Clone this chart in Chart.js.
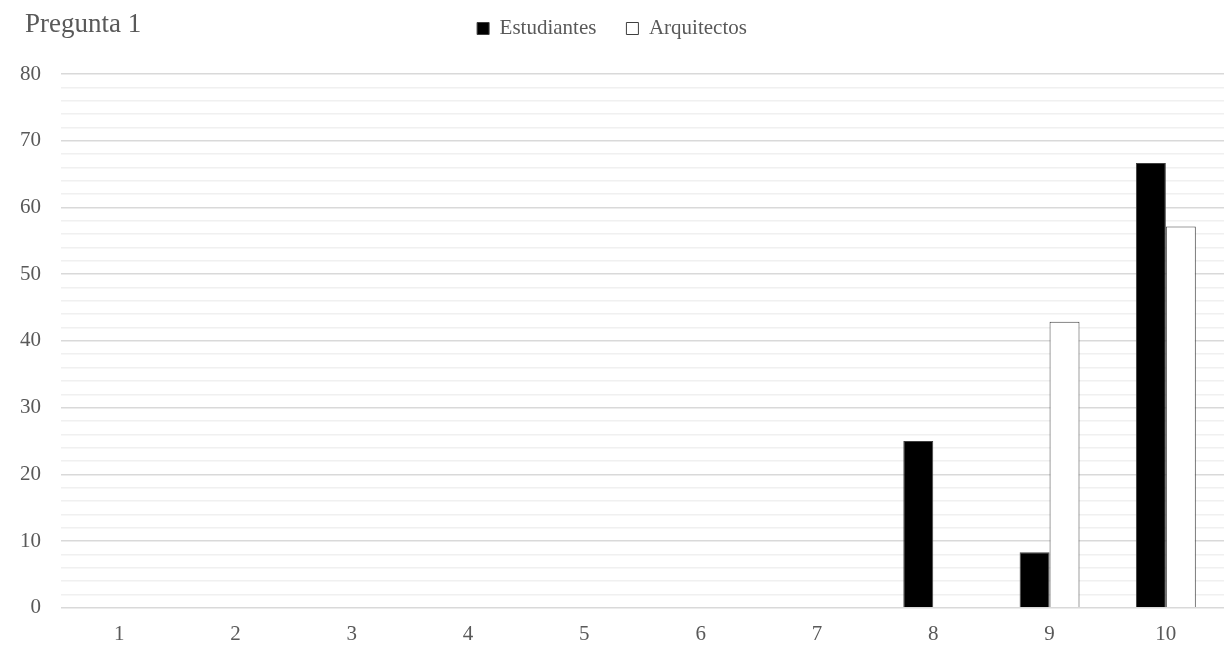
<!DOCTYPE html>
<html>
<head>
<meta charset="utf-8">
<script src="https://cdn.jsdelivr.net/npm/chart.js@4"></script>
<style>
  html, body { margin: 0; padding: 0; background: #fff; }
  #wrap { width: 1224px; height: 652px; }
</style>
</head>
<body>
<div id="wrap"><canvas id="grafico"></canvas></div>
<script>
// Datos
const categorias = ["1", "2", "3", "4", "5", "6", "7", "8", "9", "10"];
const estudiantes = [0, 0, 0, 0, 0, 0, 0, 25, 8.33, 66.67];
const arquitectos = [0, 0, 0, 0, 0, 0, 0, 0, 42.86, 57.14];
const tituloTexto = "Pregunta 1";

const fuente = "'Liberation Serif', 'DejaVu Serif', serif";
const gris = "#595959";

// Titulo a la izquierda, en la misma linea que la leyenda
const tituloPlugin = {
  id: "tituloIzq",
  afterDraw(chart) {
    const ctx = chart.ctx;
    ctx.save();
    ctx.font = "27px " + fuente;
    ctx.fillStyle = gris;
    ctx.textBaseline = "alphabetic";
    ctx.textAlign = "left";
    ctx.fillText(tituloTexto, 25, 32);
    ctx.restore();
  },
};

// Espacio extra debajo de la leyenda
const espacioLeyenda = {
  id: "espacioLeyenda",
  beforeInit(chart) {
    const fitOrig = chart.legend.fit;
    chart.legend.fit = function () {
      fitOrig.bind(chart.legend)();
      this.height += 25;
    };
  },
};

const config = {
  type: "bar",
  data: {
    labels: categorias,
    datasets: [
      {
        label: "Estudiantes",
        data: estudiantes,
        backgroundColor: "#000000",
        borderColor: "#3f3f3f",
        borderWidth: 1,
      },
      {
        label: "Arquitectos",
        data: arquitectos,
        backgroundColor: "#ffffff",
        borderColor: "#3f3f3f",
        borderWidth: 1,
      },
    ],
  },
  options: {
    responsive: true,
    maintainAspectRatio: false,
    animation: false,
    layout: { padding: { left: 0, right: 0, top: -12, bottom: -1 } },
    datasets: {
      bar: { barPercentage: 1, categoryPercentage: 0.515 },
    },
    plugins: {
      legend: {
        position: "top",
        labels: {
          font: { family: fuente, size: 21 },
          color: gris,
          boxWidth: 12,
          boxHeight: 12,
          padding: 30,
        },
      },
      tooltip: { enabled: false },
    },
    scales: {
      x: {
        grid: { display: false },
        border: { display: false },
        ticks: {
          font: { family: fuente, size: 21 },
          color: gris,
          padding: 6,
        },
      },
      y: {
        min: 0,
        max: 80,
        border: { display: false },
        grid: {
          color: (c) => (c.tick && c.tick.value % 10 === 0 ? "#d9d9d9" : "#f0f0f0"),
          lineWidth: 1.5,
          drawTicks: false,
        },
        ticks: {
          stepSize: 2,
          autoSkip: false,
          font: { family: fuente, size: 21 },
          color: gris,
          padding: 20,
          callback: (v) => (v % 10 === 0 ? v : ""),
        },
      },
    },
  },
  plugins: [tituloPlugin, espacioLeyenda],
};

const grafico = new Chart(document.getElementById("grafico"), config);
</script>
</body>
</html>
